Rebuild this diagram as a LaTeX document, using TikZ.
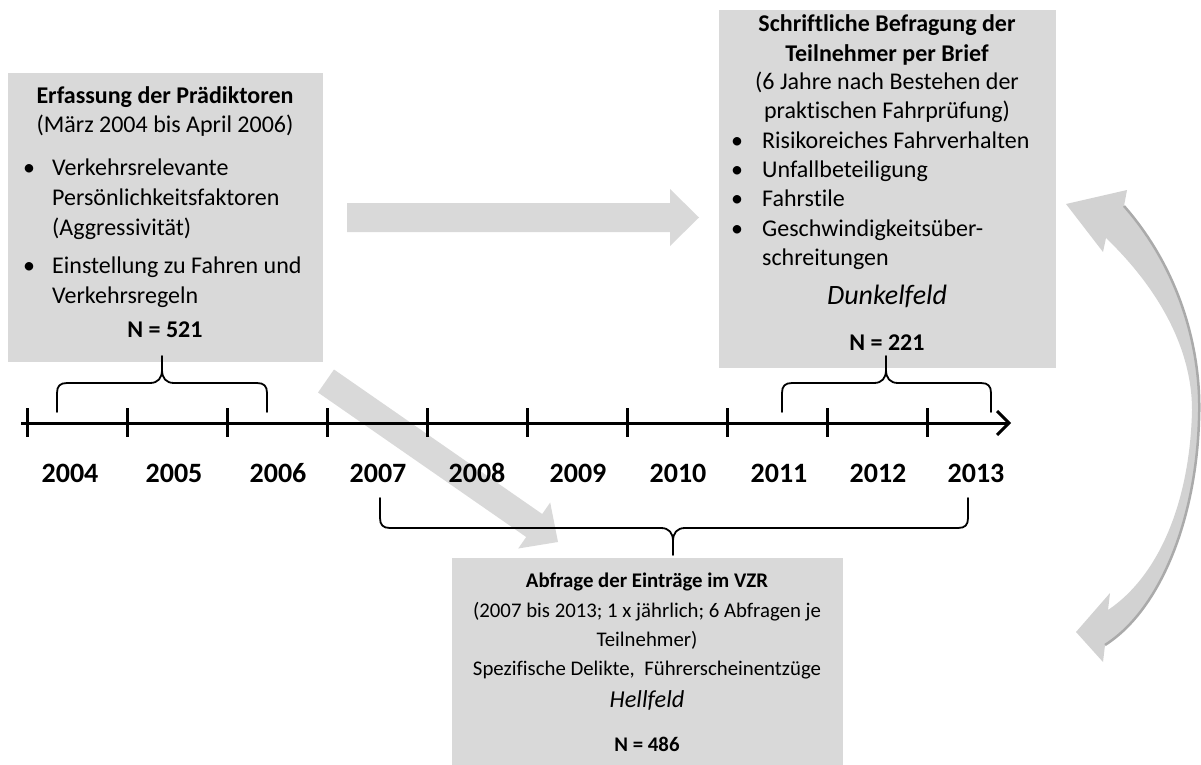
\documentclass[tikz,border=0pt]{standalone}
\usepackage{fontspec}
\setmainfont{Carlito}[Ligatures=NoCommon]
\definecolor{boxgray}{HTML}{D9D9D9}
\definecolor{arrgray}{HTML}{D9D9D9}
\definecolor{ribgray}{HTML}{D2D2D2}
\definecolor{ribdark}{HTML}{AAAAAA}
\tikzset{
  box/.style={fill=boxgray, draw=none, inner sep=0pt},
  txt/.style={anchor=base, inner sep=0pt, font=\fontsize{24}{29}\selectfont},
  txtl/.style={anchor=base west, inner sep=0pt, font=\fontsize{24}{29}\selectfont},
  hd/.style={anchor=base, inner sep=0pt, font=\fontsize{24}{29}\selectfont\bfseries},
  yr/.style={anchor=base, inner sep=0pt, font=\fontsize{28}{34}\selectfont\bfseries},
  itl/.style={anchor=base, inner sep=0pt, font=\fontsize{28}{34}\selectfont\itshape},
  btxt/.style={anchor=base, inner sep=0pt, font=\fontsize{20.8}{29}\selectfont},
  bhd/.style={anchor=base, inner sep=0pt, font=\fontsize{20.8}{29}\selectfont\bfseries},
  bitl/.style={anchor=base, inner sep=0pt, font=\fontsize{24.3}{30}\selectfont\itshape},
  blk/.style={fill=arrgray, draw=none},
  bracepath/.style={draw=black, line width=1.8pt, line join=round, line cap=round},
  tickmark/.style={draw=black, line width=3pt},
  axis/.style={draw=black, line width=3pt},
}
\begin{document}
\begin{tikzpicture}[x=1pt, y=-1pt]
\useasboundingbox (0,0) rectangle (1201,765);

% boxes
\node[box, minimum width=315pt, minimum height=289pt] (lbox) at (165.5,217.5) {};
\node[box, minimum width=337pt, minimum height=358pt] (rbox) at (887.5,189) {};
\node[box, minimum width=391pt, minimum height=207pt] (bbox) at (647.5,661.5) {};

% block arrows
\fill[blk] (347,203) -- (670,203) -- (670,189) -- (699,217.5) -- (670,246) -- (670,232) -- (347,232) -- cycle;
\fill[blk] (334,369.5) -- (542.2,514) -- (550.2,502.5) -- (558,542) -- (518.2,548.5) -- (526.2,537) -- (318,392.5) -- cycle;

% curved ribbon arrow
\fill[ribgray] (1066,204) -- (1103,252) -- (1106,238)
  .. controls (1160,290) and (1192,350) .. (1192,410)
  .. controls (1190,500) and (1160,575) .. (1108,610)
  -- (1110,593) -- (1076,632) -- (1103,662) -- (1105,645)
  .. controls (1160,610) and (1196,520) .. (1199,420)
  .. controls (1202,350) and (1180,270) .. (1124,206)
  -- (1127,190) -- cycle;
\draw[ribdark, line width=2.5pt] (1105,645)
  .. controls (1160,610) and (1196,520) .. (1199,420)
  .. controls (1202,350) and (1180,270) .. (1124,206);

% timeline
\coordinate (ax0) at (21,423);
\coordinate (ax1) at (1009,423);
\draw[axis] (ax0) -- (ax1);
\draw[axis, line join=miter] (997,411) -- (ax1) -- (997,435);
\foreach \i in {0,...,9} \draw[tickmark] ({27+100*\i},408) -- ({27+100*\i},437);

% years
\foreach \x/\y in {70/2004,174/2005,278/2006,378/2007,477/2008,578/2009,678/2010,779/2011,878/2012,976/2013}
  \node[yr] (y\y) at (\x,482) {\y};

% braces
\draw[bracepath] (57,412) -- (57,393) .. controls (57,386) and (60,383) .. (67,383) -- (150,383)
  .. controls (158,383) and (162,378) .. (162,370) -- (162,356);
\draw[bracepath] (162,370) .. controls (162,378) and (166,383) .. (174,383) -- (257,383)
  .. controls (264,383) and (267,386) .. (267,393) -- (267,412);
\draw[bracepath] (782,412) -- (782,393) .. controls (782,386) and (785,383) .. (792,383) -- (874,383)
  .. controls (882,383) and (886,378) .. (886,370) -- (886,356);
\draw[bracepath] (886,370) .. controls (886,378) and (890,383) .. (898,383) -- (981,383)
  .. controls (988,383) and (991,386) .. (991,393) -- (991,412);
\draw[bracepath] (380,498) -- (380,518) .. controls (380,525) and (383,528) .. (390,528) -- (661,528)
  .. controls (669,528) and (673,533) .. (673,541) -- (673,555);
\draw[bracepath] (673,541) .. controls (673,533) and (677,528) .. (685,528) -- (958,528)
  .. controls (965,528) and (968,525) .. (968,518) -- (968,498);

% left box text
\node[hd] (l1) at (165,103) {Erfassung der Prädiktoren};
\node[txt] (l2) at (165,132) {(März 2004 bis April 2006)};
\node[txtl] (lb1) at (23,175) {•};
\node[txtl] (l3) at (52,175) {Verkehrsrelevante};
\node[txtl] (l4) at (52,205) {Persönlichkeitsfaktoren};
\node[txtl] (l5) at (52,235) {(Aggressivität)};
\node[txtl] (lb2) at (23,273) {•};
\node[txtl] (l6) at (52,273) {Einstellung zu Fahren und};
\node[txtl] (l7) at (52,303) {Verkehrsregeln};
\node[hd] (l8) at (165,337) {N = 521};

% right box text
\node[hd] (r1) at (887,32) {Schriftliche Befragung der};
\node[hd] (r2) at (887,62) {Teilnehmer per Brief};
\node[txt] (r3) at (887,90) {(6 Jahre nach Bestehen der};
\node[txt] (r4) at (887,118) {praktischen Fahrprüfung)};
\node[txtl] (rb1) at (731,148) {•};
\node[txtl] (r5) at (762,148) {Risikoreiches Fahrverhalten};
\node[txtl] (rb2) at (731,177) {•};
\node[txtl] (r6) at (762,177) {Unfallbeteiligung};
\node[txtl] (rb3) at (731,206) {•};
\node[txtl] (r7) at (762,206) {Fahrstile};
\node[txtl] (rb4) at (731,236) {•};
\node[txtl] (r8) at (762,236) {Geschwindigkeitsüber-};
\node[txtl] (r9) at (762,265) {schreitungen};
\node[itl] (r10) at (887,304) {Dunkelfeld};
\node[hd] (r11) at (887,350) {N = 221};

% bottom box text
\node[bhd] (b1) at (647,587) {Abfrage der Einträge im VZR};
\node[btxt] (b2) at (647,617) {(2007 bis 2013; 1 x jährlich; 6 Abfragen je};
\node[btxt] (b3) at (647,646) {Teilnehmer)};
\node[btxt] (b4) at (647,675) {Spezifische Delikte,\ \ Führerscheinentzüge};
\node[bitl] (b5) at (647,707) {Hellfeld};
\node[bhd] (b6) at (647,751) {N = 486};
\end{tikzpicture}
\end{document}
